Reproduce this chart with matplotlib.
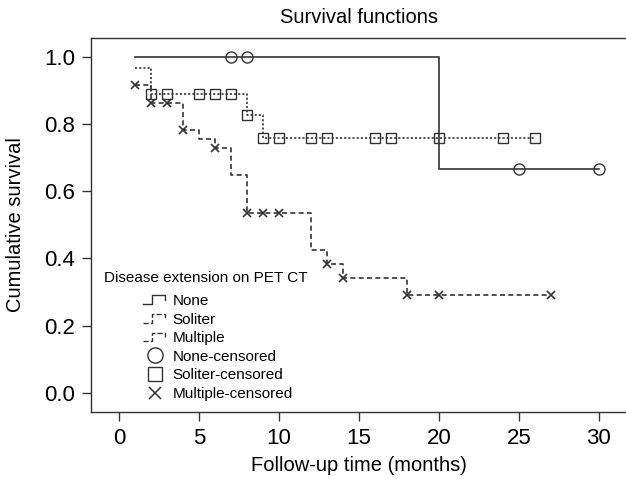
import matplotlib
matplotlib.use('Agg')
import matplotlib.pyplot as plt
from matplotlib.lines import Line2D
from matplotlib.legend_handler import HandlerBase

plt.rcParams['font.family'] = ['Liberation Sans', 'DejaVu Sans']
plt.rcParams['lines.scale_dashes'] = False

# step curves (time, survival)
none_t = [1, 20, 30]
none_s = [1.0, 0.667, 0.667]
sol_t = [1, 2, 8, 9, 26]
sol_s = [0.967, 0.889, 0.827, 0.757, 0.757]
mul_t = [1, 2, 4, 5, 6, 7, 8, 12, 13, 14, 18, 27]
mul_s = [0.914, 0.862, 0.783, 0.755, 0.729, 0.648, 0.535, 0.424, 0.384, 0.341, 0.292, 0.292]

# censored observations
none_ct = [7, 8, 25, 30]
none_cs = [1.0, 1.0, 0.667, 0.667]
sol_ct = [2, 3, 5, 6, 7, 8, 9, 10, 12, 13, 16, 17, 20, 24, 26]
sol_cs = [0.889] * 5 + [0.827] + [0.757] * 9
mul_ct = [1, 2, 3, 4, 6, 8, 9, 10, 13, 14, 18, 20, 27]
mul_cs = [0.914, 0.862, 0.862, 0.783, 0.729, 0.535, 0.535, 0.535, 0.384, 0.341, 0.292, 0.292, 0.292]

ink = '#333333'
dot = (0, (1.5, 1.5))
dash = (0, (3.6, 2.4))

fig = plt.figure(figsize=(6.26, 4.79), dpi=100)
ax = fig.add_axes([91 / 626, 67 / 479, 535 / 626, 374 / 479])

ax.step(none_t, none_s, where='post', color=ink, lw=1.2, linestyle='-')
ax.step(sol_t, sol_s, where='post', color=ink, lw=1.2, linestyle=dot)
ax.step(mul_t, mul_s, where='post', color=ink, lw=1.2, linestyle=dash)
ax.plot(none_ct, none_cs, 'o', ms=8, mfc='none', mec=ink, mew=1.0)
ax.plot(sol_ct, sol_cs, 's', ms=6.5, mfc='none', mec=ink, mew=1.0)
ax.plot(mul_ct, mul_cs, 'x', ms=6, mec=ink, mew=1.2)

ax.set_xlim(-1.75, 31.69)
ax.set_ylim(-0.056, 1.055)
ax.set_xticks([0, 5, 10, 15, 20, 25, 30])
ax.set_yticks([0.0, 0.2, 0.4, 0.6, 0.8, 1.0])
ax.set_yticklabels(['0.0', '0.2', '0.4', '0.6', '0.8', '1.0'])
ax.tick_params(labelsize=16, length=6.5, width=1, color=ink, pad=5)
ax.spines['right'].set_visible(False)
for s in ['left', 'top', 'bottom']:
    ax.spines[s].set_color(ink)
    ax.spines[s].set_linewidth(1.0)

ax.set_xlabel('Follow-up time (months)', fontsize=14.5)
ax.set_ylabel('Cumulative survival', fontsize=14.5)
ax.xaxis.set_label_coords(0.5, -0.144)
ax.yaxis.set_label_coords(-0.142, 0.5)
ax.xaxis.label.set_va('center')
ax.yaxis.label.set_va('center')
ax.text(0.5, 1.056, 'Survival functions', transform=ax.transAxes,
        ha='center', va='center', fontsize=14.5)


class StepHandler(HandlerBase):
    def create_artists(self, legend, orig_handle, xdescent, ydescent,
                       width, height, fontsize, trans):
        xs = [0, 0.4, 0.4, 0.95, 0.95]
        ys = [0.1, 0.1, 0.9, 0.9, 0.45]
        ln = Line2D([-xdescent + width * x for x in xs],
                    [-ydescent + height * y for y in ys],
                    color=orig_handle.get_color(), lw=1.0,
                    linestyle=orig_handle.get_linestyle(), transform=trans)
        return [ln]


h_none = Line2D([], [], color=ink, linestyle='-')
h_sol = Line2D([], [], color=ink, linestyle=(0, (1.2, 1.2)))
h_mul = Line2D([], [], color=ink, linestyle=(0, (2.5, 2.0)))
h_nc = Line2D([], [], color=ink, marker='o', ms=11, mfc='none', mew=1.0, linestyle='none')
h_sc = Line2D([], [], color=ink, marker='s', ms=10.5, mfc='none', mew=1.0, linestyle='none')
h_mc = Line2D([], [], color=ink, marker='x', ms=8.5, mew=1.1, linestyle='none')

ax.text(13 / 535, 134 / 374, 'Disease extension on PET CT', transform=ax.transAxes,
        ha='left', va='center', fontsize=11)
ax.legend([h_none, h_sol, h_mul, h_nc, h_sc, h_mc],
          ['None', 'Soliter', 'Multiple', 'None-censored', 'Soliter-censored', 'Multiple-censored'],
          handler_map={h_none: StepHandler(), h_sol: StepHandler(), h_mul: StepHandler()},
          loc='upper left', bbox_to_anchor=(52 / 535, 118 / 374), frameon=False,
          fontsize=11, borderpad=0, borderaxespad=0, handlelength=1.55,
          handletextpad=0.4, labelspacing=0.3)

fig.savefig('out.png', dpi=100)
